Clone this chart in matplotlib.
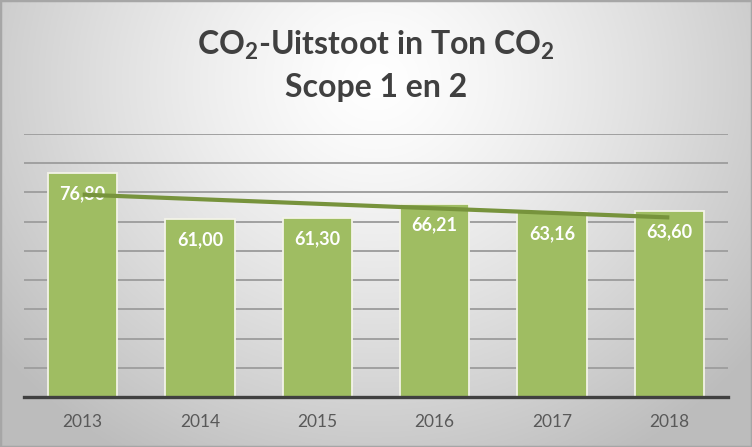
import numpy as np
import matplotlib
matplotlib.use("Agg")
import matplotlib.pyplot as plt
from matplotlib.patches import Rectangle

plt.rcParams['font.family'] = ['Lato', 'DejaVu Sans']
plt.rcParams['mathtext.fontset'] = 'custom'
plt.rcParams['mathtext.rm'] = 'Lato:bold'
plt.rcParams['mathtext.it'] = 'Lato:bold'
plt.rcParams['mathtext.bf'] = 'Lato:bold'

years = ["2013", "2014", "2015", "2016", "2017", "2018"]
values = [76.80, 61.00, 61.30, 66.21, 63.16, 63.60]
title_line1 = "CO$_2$-Uitstoot in Ton CO$_2$"
title_line2 = "Scope 1 en 2"

W, H = 752, 447
fig = plt.figure(figsize=(W / 100, H / 100), dpi=100)

# background radial gradient
bg = fig.add_axes([0, 0, 1, 1], zorder=-10)
yy, xx = np.mgrid[0:1:300j, 0:1:500j]
d = np.sqrt(((xx - 0.5) / 0.62) ** 2 + ((yy - 0.18) / 0.95) ** 2)
b = np.clip(1.0 - 0.25 * d ** 1.3, 0.74, 1.0)
img = np.dstack([b, b, b])
bg.imshow(img, extent=[0, 1, 0, 1], origin='upper', aspect='auto')
bg.set_axis_off()
bg.add_patch(Rectangle((0, 0), 1, 1, transform=bg.transAxes, fill=False,
                       edgecolor='#a6a6a6', linewidth=2.5))

ax = fig.add_axes([24 / W, (H - 397) / H, (728 - 24) / W, (397 - 134) / H])
ax.patch.set_alpha(0)
x = np.arange(len(years))
bars = ax.bar(x, values, width=0.59, color='#9fbd62', edgecolor='#f3f3e8',
              linewidth=1.3, zorder=2)
ax.set_xlim(-0.5, len(years) - 0.5)
ax.set_ylim(0, 90)
ax.set_yticks(np.arange(10, 91, 10))
ax.yaxis.grid(True, color='#a0a0a0', linewidth=1.4, zorder=0)
ax.set_axisbelow(True)
ax.tick_params(axis='y', left=False, labelleft=False)
ax.set_xticks(x)
ax.set_xticklabels(years, fontsize=12.5, color='#595959')
ax.tick_params(axis='x', length=0, pad=12)
for s in ['left', 'right', 'top']:
    ax.spines[s].set_visible(False)
ax.spines['bottom'].set_color('#404040')
ax.spines['bottom'].set_linewidth(2.4)
ax.spines['bottom'].set_zorder(5)

for xi, v in zip(x, values):
    ax.annotate(f"{v:.2f}".replace('.', ','), (xi, v), xytext=(0, -21),
                textcoords='offset pixels', ha='center', va='center',
                color='white', fontsize=13, fontweight='bold', zorder=3)

coef = np.polyfit(x, values, 1)
ax.plot(x, np.polyval(coef, x), color='#77933c', linewidth=3, zorder=4,
        solid_capstyle='butt')

fig.text(0.5, 1 - 45 / H, title_line1, ha='center', va='center',
         fontsize=23, color='#404040', fontweight='bold')
fig.text(0.5, 1 - 88 / H, title_line2, ha='center', va='center',
         fontsize=23, color='#404040', fontweight='bold')

fig.savefig("out.png", dpi=100)
